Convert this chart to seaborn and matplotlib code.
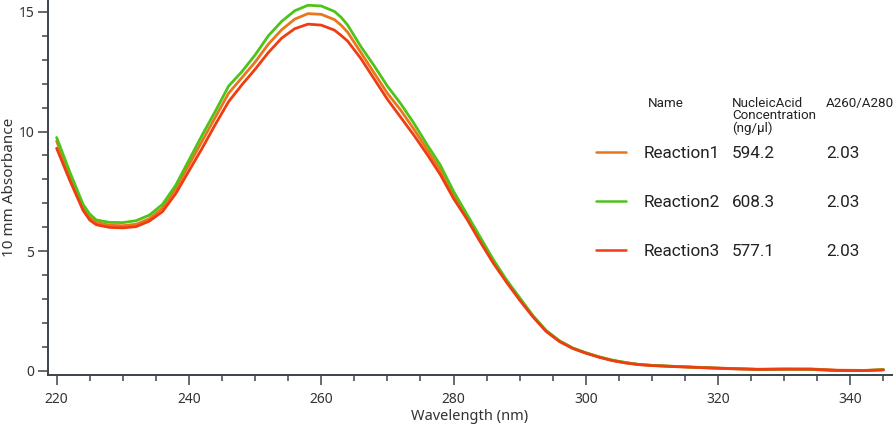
import numpy as np
import pandas as pd
import matplotlib
matplotlib.use("Agg")
import matplotlib.pyplot as plt
from matplotlib.ticker import MultipleLocator
from matplotlib.lines import Line2D
import seaborn as sns

# wavelengths (nm) the spectra were read at
wavelength = [220, 222, 224, 225, 226, 228, 230, 232, 234, 236, 238,
              240, 242, 244, 246, 248, 250, 252, 254, 256, 258,
              260, 262, 263, 264, 266, 268, 270, 272, 274, 276, 278,
              280, 282, 284, 286, 288, 290, 292, 294, 296, 298,
              300, 302, 304, 306, 308, 310, 314, 318, 322, 326,
              330, 334, 338, 342, 345]

reaction1 = [9.60, 8.15, 6.85, 6.42, 6.20, 6.08, 6.06, 6.12, 6.35, 6.80, 7.60,
             8.60, 9.60, 10.60, 11.60, 12.25, 12.90, 13.65, 14.25, 14.70, 14.93,
             14.90, 14.68, 14.45, 14.15, 13.30, 12.45, 11.60, 10.90, 10.10, 9.25, 8.40,
             7.35, 6.45, 5.50, 4.57, 3.75, 3.00, 2.28, 1.66, 1.24, 0.94,
             0.74, 0.57, 0.43, 0.33, 0.26, 0.22, 0.17, 0.13, 0.09, 0.06,
             0.07, 0.07, 0.02, 0.01, 0.04]

reaction2 = [9.75, 8.30, 6.95, 6.55, 6.30, 6.20, 6.19, 6.27, 6.50, 6.95, 7.75,
             8.80, 9.85, 10.85, 11.90, 12.50, 13.20, 14.00, 14.60, 15.05, 15.28,
             15.25, 15.02, 14.78, 14.45, 13.55, 12.75, 11.90, 11.17, 10.35, 9.45, 8.60,
             7.50, 6.55, 5.60, 4.65, 3.80, 3.05, 2.30, 1.68, 1.25, 0.95,
             0.75, 0.58, 0.44, 0.34, 0.26, 0.22, 0.17, 0.12, 0.08, 0.05,
             0.06, 0.05, 0.00, 0.00, 0.04]

reaction3 = [9.30, 7.95, 6.70, 6.30, 6.10, 5.99, 5.97, 6.02, 6.25, 6.65, 7.40,
             8.35, 9.30, 10.30, 11.25, 11.95, 12.60, 13.30, 13.90, 14.30, 14.49,
             14.45, 14.24, 14.02, 13.78, 13.05, 12.20, 11.35, 10.60, 9.85, 9.05, 8.20,
             7.20, 6.35, 5.40, 4.50, 3.70, 2.95, 2.25, 1.64, 1.22, 0.93,
             0.73, 0.56, 0.42, 0.32, 0.25, 0.21, 0.16, 0.12, 0.08, 0.05,
             0.06, 0.06, 0.01, 0.00, 0.03]

names = ["Reaction1", "Reaction2", "Reaction3"]
concentration = ["594.2", "608.3", "577.1"]
ratio = ["2.03", "2.03", "2.03"]
colors = {"Reaction1": "#EA761B", "Reaction2": "#4EC31A", "Reaction3": "#EF3C13"}

frames = []
for n, vals in zip(names, [reaction1, reaction2, reaction3]):
    frames.append(pd.DataFrame({"Wavelength": wavelength, "Absorbance": vals, "Name": n}))
df = pd.concat(frames, ignore_index=True)

sns.set_style("ticks")
plt.rcParams["font.family"] = ["Noto Sans", "DejaVu Sans"]

fig = plt.figure(figsize=(8.96, 4.28), dpi=100)
ax = fig.add_axes([0.0536, 0.124, 0.942, 0.876])

sns.lineplot(data=df, x="Wavelength", y="Absorbance", hue="Name",
             hue_order=names, palette=colors, linewidth=2.0, legend=False,
             ax=ax, sort=False)

ax.set_xlim(218.7, 346.3)
ax.set_ylim(-0.18, 15.5)
ax.xaxis.set_major_locator(MultipleLocator(20))
ax.xaxis.set_minor_locator(MultipleLocator(5))
ax.yaxis.set_major_locator(MultipleLocator(5))
ax.yaxis.set_minor_locator(MultipleLocator(1))

spine_col = "#3b424a"
for s in ["top", "right"]:
    ax.spines[s].set_visible(False)
for s in ["left", "bottom"]:
    ax.spines[s].set_color(spine_col)
    ax.spines[s].set_linewidth(1.4)
ax.tick_params(which="major", length=7, width=1.1, color=spine_col,
               labelsize=10, labelcolor="#333333")
ax.tick_params(axis="x", which="major", pad=5)
ax.tick_params(axis="y", which="major", pad=3)
ax.tick_params(which="minor", length=4, width=1.1, color=spine_col)

ax.set_xlabel("Wavelength (nm)", fontsize=10.5, color="#333333", labelpad=2)
ax.set_ylabel("10 mm Absorbance", fontsize=11, color="#333333", labelpad=1)

# table-like legend
fs = 12.3
handles = [Line2D([], [], color=colors[n], linewidth=1.8) for n in names]
leg = fig.legend(handles, names, loc="upper left",
                 bbox_to_anchor=(596 / 896, 1 - 146 / 428),
                 frameon=False, handlelength=1.75,
                 handletextpad=1.05, labelspacing=1.99, borderpad=0,
                 borderaxespad=0, prop={"family": ["Roboto", "DejaVu Sans"], "size": fs})
for t in leg.get_texts():
    t.set_color("#222222")

hdr = dict(fontsize=9.6, color="#222222", family=["Roboto", "DejaVu Sans"], va="top")
fig.text(648 / 896, 1 - 97 / 428, "Name", **hdr)
fig.text(732 / 896, 1 - 97 / 428, "NucleicAcid\nConcentration\n(ng/µl)", linespacing=0.92, **hdr)
fig.text(826 / 896, 1 - 97 / 428, "A260/A280", **hdr)

row_y = [153.5, 202.5, 251.5]
for y, c, r in zip(row_y, concentration, ratio):
    fig.text(732 / 896, 1 - y / 428, c, fontsize=fs, color="#222222",
             family=["Roboto", "DejaVu Sans"], va="center")
    fig.text(826 / 896, 1 - y / 428, r, fontsize=fs, color="#222222",
             family=["Roboto", "DejaVu Sans"], va="center")

fig.savefig("out.png", dpi=100)
